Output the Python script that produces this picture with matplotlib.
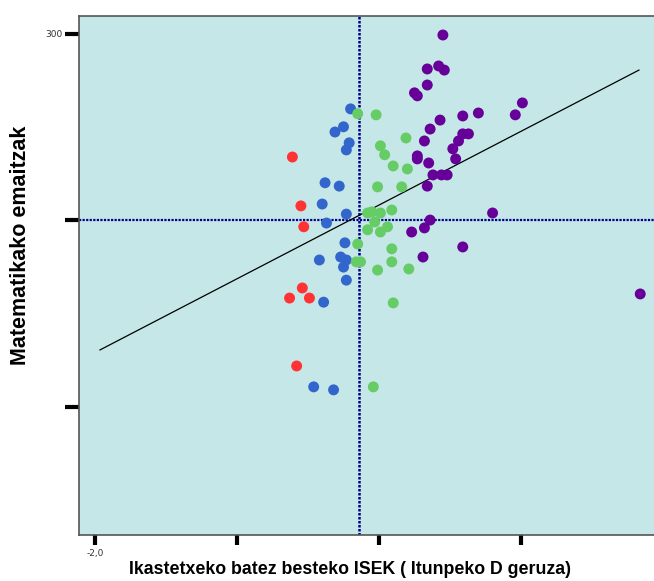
import numpy as np
import matplotlib
matplotlib.use('Agg')
import matplotlib.pyplot as plt

# datos (x = ISEK, y = emaitza)
gorri_x = [-0.61, -0.55, -0.53, -0.63, -0.54, -0.49, -0.58]
gorri_y = [267.0, 253.9, 248.3, 229.2, 231.9, 229.2, 211.0]

urdin_x = [-0.20, -0.25, -0.31, -0.21, -0.23, -0.38, -0.28, -0.40, -0.23, -0.37,
           -0.24, -0.42, -0.27, -0.23, -0.25, -0.23, -0.39, -0.46, -0.32]
urdin_y = [279.9, 275.1, 273.7, 270.8, 268.9, 260.1, 259.2, 254.4, 251.7, 249.3,
           244.0, 239.4, 240.2, 239.4, 237.5, 234.0, 228.1, 205.4, 204.6]

berde_x = [-0.15, -0.02, 0.19, 0.01, 0.04, 0.10, 0.20, -0.01, 0.16, -0.08,
           -0.05, 0.01, 0.09, -0.03, 0.06, -0.08, 0.01, -0.15, 0.09, -0.16,
           -0.13, -0.01, 0.09, 0.21, 0.10, -0.04]
berde_y = [278.6, 278.3, 272.1, 270.0, 267.6, 264.6, 263.8, 259.0, 259.0, 252.0,
           252.3, 252.0, 252.8, 249.6, 248.3, 247.5, 246.9, 243.7, 242.4, 238.9,
           238.9, 236.7, 238.9, 237.0, 227.9, 205.4]

more_x = [0.45, 0.34, 0.42, 0.46, 0.34, 0.25, 0.27, 1.01, 0.96, 0.70,
          0.59, 0.43, 0.36, 0.59, 0.63, 0.32, 0.56, 0.52, 0.27, 0.27,
          0.35, 0.54, 0.38, 0.44, 0.48, 0.34, 0.80, 0.36, 0.32, 0.23,
          0.59, 0.31, 1.84]
more_y = [299.7, 290.6, 291.4, 290.3, 286.3, 284.2, 283.4, 281.5, 278.3, 278.8,
          278.0, 276.9, 274.5, 273.2, 273.2, 271.3, 271.3, 269.2, 267.3, 266.5,
          265.4, 266.5, 262.2, 262.2, 262.2, 259.2, 252.0, 250.1, 248.0, 246.9,
          242.9, 240.2, 230.3]

# erregresio zuzena eta erreferentzia lerroak
zuzen_x = [-1.965, 1.831]
zuzen_y = [215.3, 290.3]
erdi_x = -0.14
erdi_y = 250.0

fig = plt.figure(figsize=(6.54, 5.81), dpi=100)
ax = fig.add_axes([0.1208, 0.0792, 0.8792, 0.8933])
ax.set_facecolor('#c6e7e7')

ax.axvline(erdi_x, color='#00008b', lw=1.8, ls=(0, (1, 0.6)), zorder=1)
ax.axhline(erdi_y, color='#00008b', lw=1.6, ls=(0, (1, 0.6)), zorder=1)
ax.plot(zuzen_x, zuzen_y, color='black', lw=0.9, zorder=2)

ms = 62
ax.scatter(gorri_x, gorri_y, s=ms, color='#ff3333', edgecolors='none', zorder=3)
ax.scatter(urdin_x, urdin_y, s=ms, color='#3366cc', edgecolors='none', zorder=3)
ax.scatter(berde_x, berde_y, s=ms, color='#66cc66', edgecolors='none', zorder=3)
ax.scatter(more_x, more_y, s=ms, color='#660099', edgecolors='none', zorder=3)

ax.set_xlim(-2.113, 1.937)
ax.set_ylim(165.7, 304.8)

ax.set_xticks([-2, -1, 0, 1])
ax.set_xticklabels(['-2,0', '', '', ''])
ax.set_yticks([200, 250, 300])
ax.set_yticklabels(['', '', '300'])
ax.tick_params(axis='both', direction='out', width=3, color='black',
               labelsize=6.5, labelcolor='#333333')
ax.tick_params(axis='y', length=10, pad=2)
ax.tick_params(axis='x', length=7, pad=3)

for s in ['left', 'bottom', 'top']:
    ax.spines[s].set_color('#555555')
    ax.spines[s].set_linewidth(1.2)
ax.spines['right'].set_visible(False)

# ardatzen izenak
fig.text(350 / 654, 1 - 570 / 581, 'Ikastetxeko batez besteko ISEK ( Itunpeko D geruza)',
         fontsize=12.8, fontweight='bold', family='Liberation Sans',
         ha='center', va='center')
fig.text(21 / 654, 1 - 245 / 581, 'Matematikako emaitzak', fontsize=15.5,
         fontweight='bold', family='Liberation Sans', rotation=90,
         ha='center', va='center')

fig.savefig('out.png', dpi=100)
